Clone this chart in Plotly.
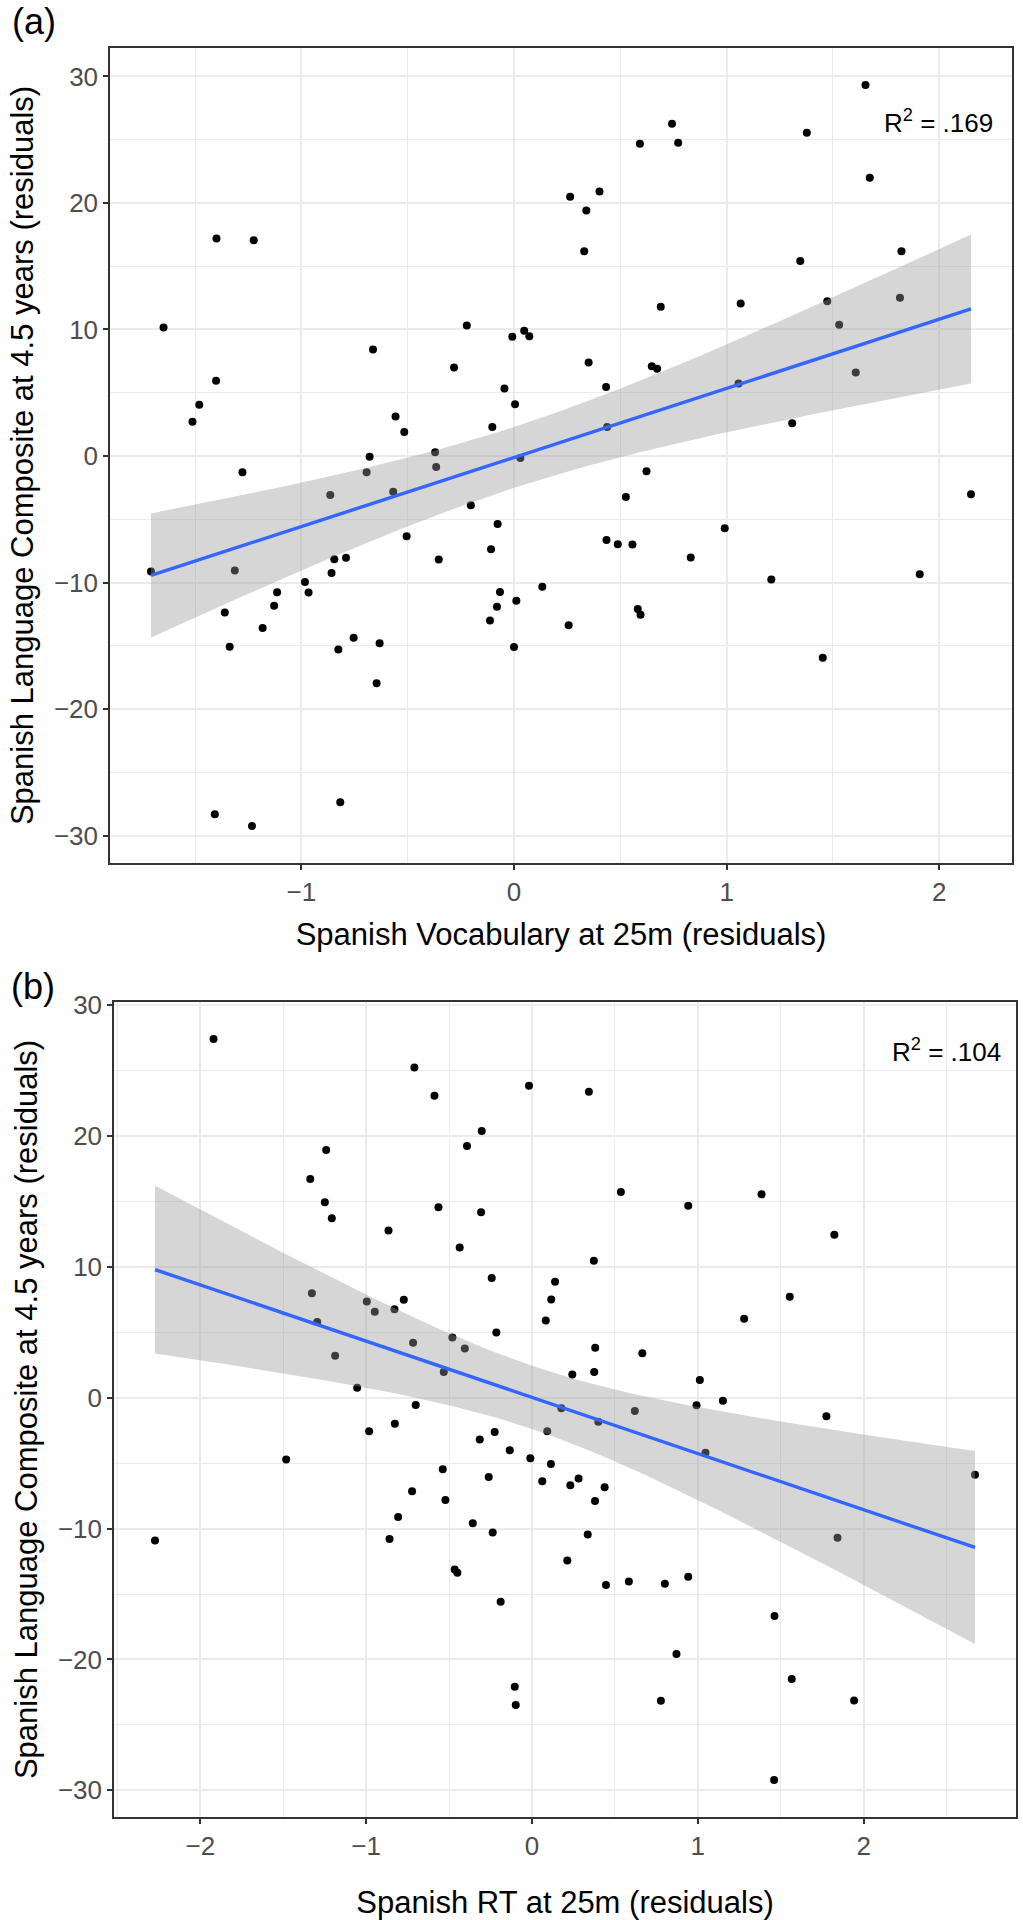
import numpy as np
import plotly.graph_objects as go

# ---------------- data ----------------
# Panel (a): Spanish Vocabulary at 25m (residuals) vs Spanish Language Composite (residuals)
vocab_x = [-1.399, -1.224, -1.648, -1.401, -1.480, -1.512, -0.663, -0.222, -0.282, -0.008,
           0.048, 0.072, -0.045, 0.005, -0.557, -0.516, -0.102, -0.679, -0.371, 0.030,
           1.653, 0.743, 1.377, 0.592, 0.772, 1.673, 0.264, 0.402, 0.340, 0.330,
           1.822, 1.346, 0.690, 1.066, 1.473, 1.815, 1.529, 0.351, 0.648, 0.673,
           1.607, 0.433, 1.056, 0.438, 1.308, -1.707, -1.277, -1.313, -1.360, -1.337,
           -1.182, -1.128, -1.114, -1.407, -1.232, -0.983, -0.966, -0.864, -0.693, -0.568,
           -0.366, -0.203, -0.077, -0.505, -0.108, -0.845, -0.790, -0.858, -0.354, -0.066,
           -0.080, -0.113, 0.011, 0.133, 0.000, -0.754, -0.826, -0.632, -0.646, -0.817,
           0.623, 0.526, 0.435, 0.488, 0.557, 0.831, 0.991, 0.257, 0.582, 0.595,
           1.210, 1.452, 1.908, 2.149]
vocab_y = [17.19, 17.05, 10.16, 5.95, 4.05, 2.71, 8.42, 10.32, 7.00, 9.42,
           9.90, 9.47, 5.34, 4.10, 3.13, 1.89, 2.29, -0.05, 0.29, -0.16,
           29.32, 26.26, 25.55, 24.68, 24.76, 22.00, 20.50, 20.90, 19.40, 16.18,
           16.18, 15.42, 11.79, 12.05, 12.24, 12.50, 10.37, 7.39, 7.10, 6.90,
           6.60, 5.45, 5.74, 2.29, 2.58, -9.13, -1.29, -9.05, -12.37, -15.08,
           -13.60, -11.84, -10.76, -28.32, -29.24, -9.95, -10.79, -3.08, -1.29, -2.82,
           -0.87, -3.90, -5.37, -6.34, -7.37, -8.16, -8.05, -9.24, -8.18, -10.74,
           -11.92, -13.00, -11.45, -10.34, -15.10, -14.37, -15.29, -14.79, -17.97, -27.37,
           -1.21, -3.24, -6.63, -6.97, -7.00, -8.03, -5.71, -13.37, -12.10, -12.55,
           -9.76, -15.95, -9.34, -3.03]

# Panel (b): Spanish RT at 25m (residuals) vs Spanish Language Composite (residuals)
rt_x = [-1.920, -0.709, -0.588, -0.018, -0.303, -0.392, -1.241, -1.337, -1.249, -1.207,
        -0.564, -0.307, -0.865, -0.436, -0.243, 0.139, 0.116, 0.083, -1.327, -0.996,
        -0.948, -0.829, -0.773, -1.295, -0.215, -0.717, -0.480, -0.405, -1.187, -0.532,
        -1.054, -0.701, -0.827, 0.343, 0.536, 0.942, 1.384, 1.823, 0.373, 1.554,
        1.279, 0.381, 0.665, 0.243, 0.375, 1.012, 1.151, 0.992, 0.620, 1.775,
        0.177, 0.400, -2.273, -1.482, -0.982, -0.225, -0.315, 0.092, -0.134, -0.010,
        0.114, -0.538, -0.261, 0.062, -0.723, -0.522, -0.807, -0.357, -0.859, -0.237,
        -0.466, -0.450, -0.189, -0.104, -0.098, 1.046, 2.671, 0.231, 0.281, 0.438,
        0.380, 0.336, 1.842, 0.213, 0.446, 0.584, 0.801, 0.942, 1.462, 0.871,
        1.566, 0.777, 1.942, 1.460]
rt_y = [27.41, 25.24, 23.08, 23.85, 20.38, 19.24, 18.93, 16.72, 14.94, 13.72,
        14.56, 14.18, 12.78, 11.48, 9.14, 8.86, 7.51, 5.90, 7.99, 7.36,
        6.57, 6.77, 7.48, 5.78, 4.99, 4.20, 4.61, 3.77, 3.21, 1.96,
        0.76, -0.56, -1.98, 23.39, 15.73, 14.68, 15.55, 12.45, 10.46, 7.71,
        6.03, 3.82, 3.39, 1.78, 1.96, 1.35, -0.23, -0.58, -1.02, -1.42,
        -0.81, -1.83, -10.92, -4.73, -2.57, -2.62, -3.20, -2.57, -4.02, -4.63,
        -5.06, -5.47, -6.05, -6.38, -7.15, -7.81, -9.11, -9.59, -10.79, -10.30,
        -13.13, -13.38, -15.60, -22.08, -23.48, -4.20, -5.88, -6.69, -6.18, -6.84,
        -7.89, -10.46, -10.71, -12.44, -14.32, -14.05, -14.22, -13.69, -16.69, -19.59,
        -21.50, -23.15, -23.13, -29.21]

panel_tags = ["(a)", "(b)"]
x_titles = ["Spanish Vocabulary at 25m (residuals)", "Spanish RT at 25m (residuals)"]
y_title = "Spanish Language Composite at 4.5 years (residuals)"
r2_labels = ["R<sup>2</sup> = .169", "R<sup>2</sup> = .104"]
r2_pos = [(2.26, 26.45), (2.84, 26.5)]
x_ticks = [[-1, 0, 1, 2], [-2, -1, 0, 1, 2]]
y_ticks = [-30, -20, -10, 0, 10, 20, 30]
T_CRIT = 1.986  # qt(0.975, df = n - 2)

# ---------------- helpers ----------------
FONT = "Liberation Sans, Arial, Helvetica, sans-serif"


def fit_band(x, y, n_grid=80):
    x = np.asarray(x, float)
    y = np.asarray(y, float)
    n = len(x)
    b1, b0 = np.polyfit(x, y, 1)
    resid = y - (b0 + b1 * x)
    s = np.sqrt(np.sum(resid ** 2) / (n - 2))
    xg = np.linspace(x.min(), x.max(), n_grid)
    yg = b0 + b1 * xg
    sxx = np.sum((x - x.mean()) ** 2)
    se = s * np.sqrt(1.0 / n + (xg - x.mean()) ** 2 / sxx)
    return xg, yg, yg - T_CRIT * se, yg + T_CRIT * se


def expanded(v, mult=0.05):
    lo, hi = min(v), max(v)
    pad = (hi - lo) * mult
    return [lo - pad, hi + pad]


W, H = 1023, 1920
# plot-area pixel boxes (left, right, top, bottom)
boxes = [(110, 1012, 48, 863), (114, 1016, 1002, 1817)]
x_title_standoff = [17, 38]
tag_centers = [(34, 21), (33, 986)]

fig = go.Figure()
datasets = [(vocab_x, vocab_y), (rt_x, rt_y)]

for i, (xs, ys) in enumerate(datasets):
    xa = "x" if i == 0 else "x2"
    ya = "y" if i == 0 else "y2"
    fig.add_trace(go.Scatter(x=xs, y=ys, mode="markers", xaxis=xa, yaxis=ya,
                             marker=dict(color="black", size=8, line=dict(width=0)),
                             showlegend=False, hoverinfo="x+y"))
    xg, yg, lo, hi = fit_band(xs, ys)
    fig.add_trace(go.Scatter(x=np.concatenate([xg, xg[::-1]]),
                             y=np.concatenate([hi, lo[::-1]]),
                             mode="lines", fill="toself", xaxis=xa, yaxis=ya,
                             fillcolor="rgba(153,153,153,0.4)", line=dict(width=0),
                             showlegend=False, hoverinfo="skip"))
    fig.add_trace(go.Scatter(x=xg, y=yg, mode="lines", xaxis=xa, yaxis=ya,
                             line=dict(color="#3366FF", width=3.4),
                             showlegend=False, hoverinfo="skip"))

layout = dict(width=W, height=H, margin=dict(l=0, r=0, t=0, b=0),
              paper_bgcolor="white", plot_bgcolor="white", template="none",
              font=dict(family=FONT, color="black"), showlegend=False)

annotations = []
for i, (xs, ys) in enumerate(datasets):
    l, r, t, b = boxes[i]
    sfx = "" if i == 0 else "2"
    common_axis = dict(showline=True, mirror=True, linecolor="#333333", linewidth=1.5,
                       ticks="outside", ticklen=5, tickwidth=1.5, tickcolor="#333333",
                       tickfont=dict(family=FONT, size=26, color="#4D4D4D"),
                       showgrid=True, gridcolor="#EBEBEB", gridwidth=2,
                       zeroline=False, automargin=False)
    layout["xaxis" + sfx] = dict(
        common_axis, domain=[l / W, r / W], anchor="y" + sfx,
        range=expanded(xs), tickmode="array", tickvals=x_ticks[i],
        minor=dict(showgrid=True, gridcolor="#EBEBEB", gridwidth=1, dtick=0.5, tick0=0, ticks=""),
        title=dict(text=x_titles[i], font=dict(family=FONT, size=31, color="black"),
                   standoff=x_title_standoff[i]),
    )
    layout["yaxis" + sfx] = dict(
        common_axis, domain=[1 - b / H, 1 - t / H], anchor="x" + sfx,
        range=expanded(ys), tickmode="array", tickvals=y_ticks,
        minor=dict(showgrid=True, gridcolor="#EBEBEB", gridwidth=1, dtick=5, tick0=0, ticks=""),
        title=dict(text=y_title, font=dict(family=FONT, size=31, color="black"), standoff=11),
    )
    annotations.append(dict(text=r2_labels[i], x=r2_pos[i][0], y=r2_pos[i][1],
                            xref="x" + sfx, yref="y" + sfx, xanchor="right", yanchor="middle",
                            showarrow=False, font=dict(family=FONT, size=26, color="black")))
    cx, cy = tag_centers[i]
    annotations.append(dict(text=panel_tags[i], x=cx / W, y=1 - cy / H, xref="paper", yref="paper",
                            xanchor="center", yanchor="middle", showarrow=False,
                            font=dict(family=FONT, size=36, color="black")))

layout["annotations"] = annotations

fig.update_layout(**layout)
fig.write_html("out.html", config={"displayModeBar": False},
               post_script="document.body.style.margin='0px';")
